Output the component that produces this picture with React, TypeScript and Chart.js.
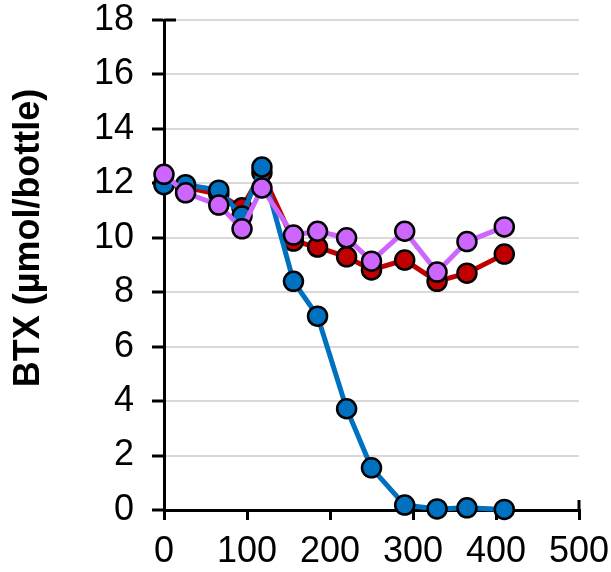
import React, { useEffect, useRef } from "react";
import { Chart, registerables } from "chart.js";

Chart.register(...registerables);

const timeValues = [0, 26, 66, 94, 118, 156, 185, 220, 250, 290, 329, 365, 410];
const blueSeries = [11.95, 11.95, 11.75, 10.8, 12.6, 8.4, 7.12, 3.72, 1.55, 0.18, 0.04, 0.08, 0.02];
const redSeries = [12.0, 11.85, 11.6, 11.1, 12.4, 9.88, 9.66, 9.3, 8.82, 9.18, 8.4, 8.7, 9.4];
const purpleSeries = [12.33, 11.65, 11.2, 10.33, 11.83, 10.1, 10.24, 10.0, 9.14, 10.24, 8.74, 9.86, 10.4];
const xTickValues = [0, 100, 200, 300, 400, 500];
const yTitle = "BTX (µmol/bottle)";

const FONT = "'Liberation Sans', Arial, sans-serif";

export default function App() {
  const ref = useRef<HTMLCanvasElement | null>(null);

  useEffect(() => {
    if (!ref.current) return;
    const mk = (vals: number[]) => timeValues.map((x, i) => ({ x, y: vals[i] }));
    const ds = (label: string, vals: number[], color: string, order: number) => ({
      label,
      data: mk(vals),
      borderColor: color,
      backgroundColor: color,
      pointBackgroundColor: color,
      pointBorderColor: "#000000",
      pointBorderWidth: 2.5,
      pointRadius: 9.5,
      borderWidth: 5,
      tension: 0,
      order,
      clip: false as any,
    });

    const titlePlugin = {
      id: "customTitle",
      afterDraw(chart: any) {
        const ctx = chart.ctx;
        ctx.save();
        ctx.translate(29, 238);
        ctx.rotate(-Math.PI / 2);
        ctx.font = `bold 36px ${FONT}`;
        ctx.fillStyle = "#000";
        ctx.textAlign = "center";
        ctx.textBaseline = "middle";
        ctx.fillText(yTitle, 0, 0);
        ctx.restore();
        const xs = chart.scales.x;
        const ys = chart.scales.y;
        ctx.save();
        ctx.strokeStyle = "#000";
        ctx.lineWidth = 3;
        ctx.beginPath();
        const px = xs.getPixelForValue(500);
        ctx.moveTo(px, ys.bottom);
        ctx.lineTo(px, ys.bottom - 10);
        const py = ys.getPixelForValue(18);
        ctx.moveTo(xs.left, py);
        ctx.lineTo(xs.left + 12, py);
        ctx.stroke();
        ctx.restore();
      },
    };

    const chart = new Chart(ref.current, {
      type: "line",
      data: {
        datasets: [
          ds("Purple", purpleSeries, "#CC66FF", 0),
          ds("Blue", blueSeries, "#0070C0", 1),
          ds("Red", redSeries, "#C00000", 2),
        ],
      },
      options: {
        responsive: false,
        animation: false,
        layout: { padding: { top: 20, right: 32, left: 0, bottom: 0 } },
        plugins: { legend: { display: false }, tooltip: { enabled: false } },
        scales: {
          x: {
            type: "linear",
            min: 0,
            max: 500,
            afterFit: (s: any) => {
              s.height = 62;
              s.paddingLeft = 0;
              s.paddingRight = 0;
            },
            afterBuildTicks: (s: any) => { s.ticks = xTickValues.map((v) => ({ value: v })); },
            grid: {
              drawOnChartArea: false,
              color: "#000",
              tickColor: "#000",
              tickLength: 10,
              lineWidth: 3,
            },
            border: { color: "#000", width: 3 },
            ticks: {
              color: "#000",
              font: { family: FONT, size: 36 },
              padding: 10,
              maxRotation: 0,
              autoSkip: false,
            },
          },
          y: {
            min: 0,
            max: 18,
            afterFit: (s: any) => {
              s.width = 164;
              s.paddingTop = 0;
              s.paddingBottom = 0;
            },
            grid: {
              color: "#D9D9D9",
              lineWidth: 2,
              tickColor: "#000",
              tickLength: 12,
              tickWidth: 3,
            },
            border: { color: "#000", width: 3 },
            ticks: {
              stepSize: 2,
              color: "#000",
              font: { family: FONT, size: 36 },
              padding: 18,
            },
          },
        },
      },
      plugins: [titlePlugin],
    });
    return () => chart.destroy();
  }, []);

  return (
    <div style={{ position: "absolute", left: 0, top: 0, width: 611, height: 572, background: "#fff" }}>
      <canvas ref={ref} width={611} height={572} />
    </div>
  );
}
